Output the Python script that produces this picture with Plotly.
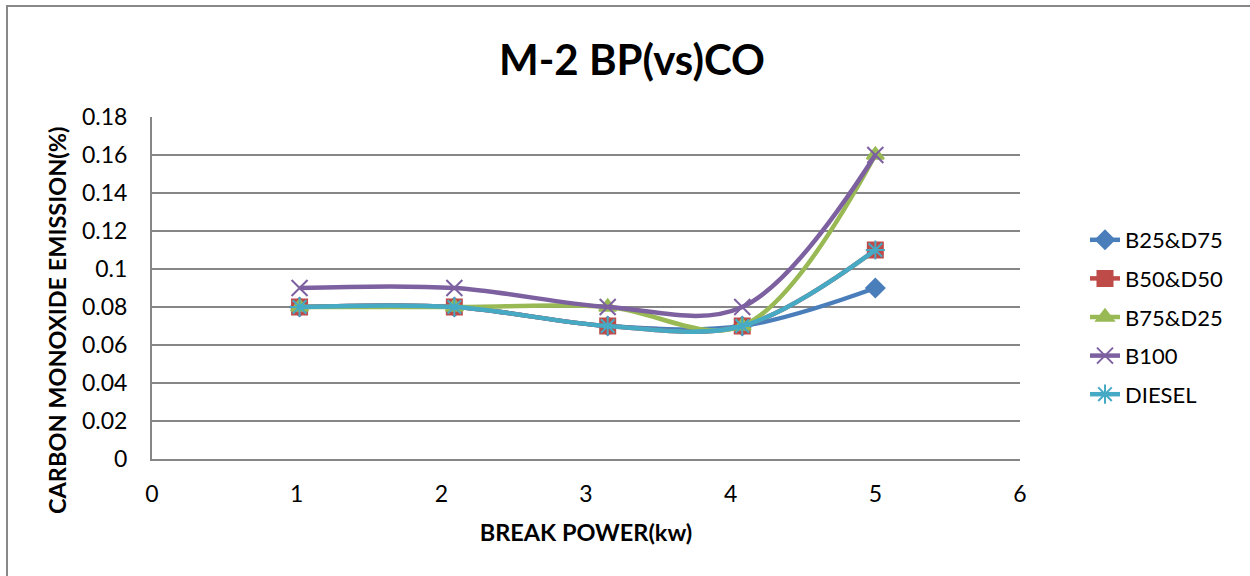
import plotly.graph_objects as go

x_vals = [1.02, 2.09, 3.15, 4.08, 5.0]
series_names = ["B25&D75", "B50&D50", "B75&D25", "B100", "DIESEL"]
b25_d75 = [0.08, 0.08, 0.07, 0.07, 0.09]
b50_d50 = [0.08, 0.08, 0.07, 0.07, 0.11]
b75_d25 = [0.08, 0.08, 0.08, 0.07, 0.16]
b100 = [0.09, 0.09, 0.08, 0.08, 0.16]
diesel = [0.08, 0.08, 0.07, 0.07, 0.11]
x_ticks = [0, 1, 2, 3, 4, 5, 6]
y_ticks = [0, 0.02, 0.04, 0.06, 0.08, 0.1, 0.12, 0.14, 0.16, 0.18]

colors = ["#4A7EBB", "#BE4B48", "#98B954", "#7D60A0", "#46AAC5"]
symbols = ["diamond", "square", "triangle-up", "x-thin-open", "asterisk-open"]
sizes = [14, 15, 15, 16, 16]
values = [b25_d75, b50_d50, b75_d25, b100, diesel]

FONT = "Lato"
L, R, T, B = 152, 1020, 117, 459
PW, PH = R - L, B - T

fig = go.Figure()
for i, (name, ys) in enumerate(zip(series_names, values)):
    fig.add_trace(go.Scatter(
        x=x_vals, y=ys, name=name, mode="lines+markers",
        line=dict(color=colors[i], width=4.5, shape="spline", smoothing=1),
        marker=dict(symbol=symbols[i], size=sizes[i], color=colors[i],
                    line=dict(color=colors[i], width=2)),
        legendgroup=name,
    ))

fig.update_layout(
    width=1250, height=576,
    paper_bgcolor="white", plot_bgcolor="white",
    margin=dict(l=L, r=1250 - R, t=T, b=576 - B, autoexpand=False),
    font=dict(family=FONT, size=20, color="black"),
    title=dict(text="<b>M-2 BP(vs)CO</b>", x=632/1250, xanchor="center",
               y=1 - 60/576, yanchor="middle",
               font=dict(family=FONT, size=42, color="black")),
    showlegend=True,
    legend=dict(x=(1085 - L)/PW, xref="paper", y=(B - 219)/PH, yref="paper",
                xanchor="left", yanchor="top",
                font=dict(family=FONT, size=22, color="black"),
                tracegroupgap=7, bgcolor="rgba(0,0,0,0)"),
    xaxis=dict(range=[0, 6], tickvals=x_ticks, showgrid=False, zeroline=False,
               showline=True, linecolor="#868686", linewidth=2, ticks="",
               tickfont=dict(size=23), ticklabelstandoff=13,
               title=dict(text="<b>BREAK POWER(kw)</b>", font=dict(size=23.5), standoff=19)),
    yaxis=dict(range=[0, 0.18], tickvals=y_ticks, showgrid=True, gridcolor="#868686",
               gridwidth=1.5, zeroline=False, showline=True, linecolor="#868686",
               linewidth=2, ticks="", tickfont=dict(size=23), ticklabelstandoff=18),
    annotations=[dict(text="<b>CARBON MONOXIDE EMISSION(%)</b>", textangle=-90,
                      xref="paper", yref="paper", x=(57 - L)/PW, y=(B - 321)/PH,
                      xanchor="center", yanchor="middle", showarrow=False,
                      font=dict(family=FONT, size=23.5, color="black"))],
    shapes=[dict(type="rect", xref="paper", yref="paper",
                 x0=(7 - L)/PW, x1=(1262 - L)/PW, y0=-(590 - B)/PH, y1=(B - 6)/PH,
                 line=dict(color="#888888", width=2), fillcolor="rgba(0,0,0,0)", layer="below")],
)

fig.write_html("out.html")
